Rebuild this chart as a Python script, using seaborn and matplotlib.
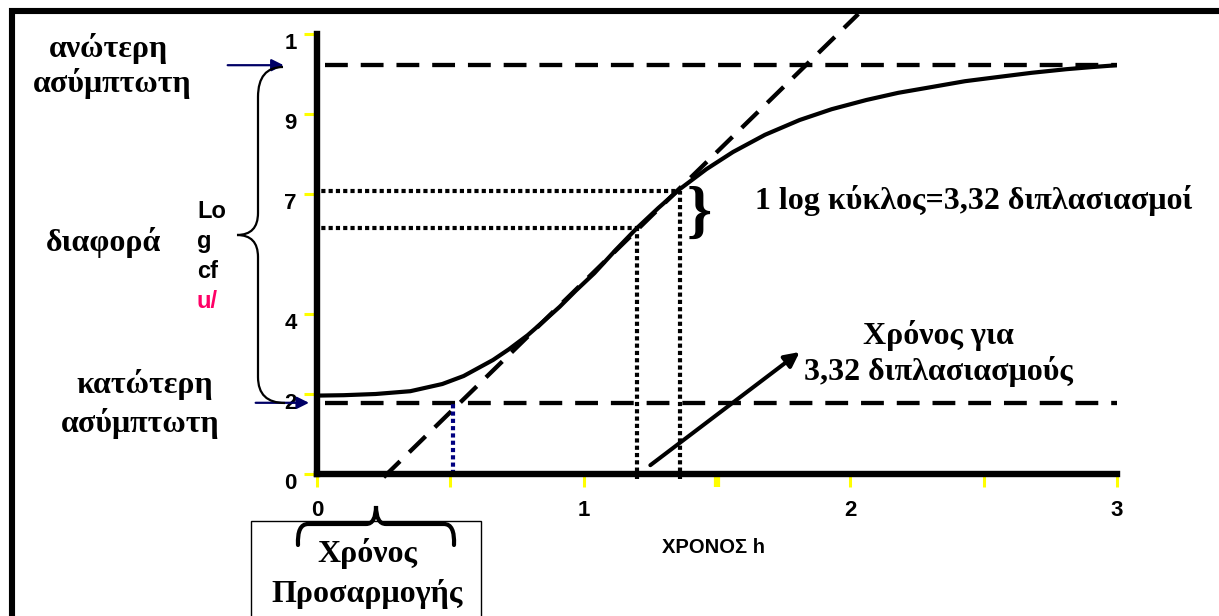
import numpy as np
import pandas as pd
import seaborn as sns
import matplotlib.pyplot as plt
from matplotlib.path import Path
from matplotlib.patches import PathPatch, Rectangle
from matplotlib.lines import Line2D
from matplotlib.transforms import ScaledTranslation

# growth curve (time h, log cfu)
curve_x = [0.0, 0.10, 0.22, 0.35, 0.47, 0.55, 0.66, 0.72, 0.79, 0.85, 0.91, 0.97, 1.04, 1.12,
           1.20, 1.28, 1.36, 1.46, 1.56, 1.68, 1.81, 1.93, 2.06, 2.18, 2.31, 2.43, 2.56,
           2.68, 2.81, 2.90, 3.0]
curve_y = [1.96, 1.97, 2.0, 2.07, 2.25, 2.45, 2.85, 3.12, 3.47, 3.82, 4.18, 4.58, 5.02, 5.6,
           6.15, 6.65, 7.12, 7.62, 8.05, 8.48, 8.85, 9.12, 9.35, 9.53, 9.68, 9.82, 9.93,
           10.03, 10.12, 10.17, 10.22]

upper_asym = 10.22
lower_asym = 1.78
asym_x = [0.03, 3.0]

tangent_x = [0.25, 2.03]
tangent_y = [-0.08, 11.5]

# one log cycle marks
cycle_x = [1.20, 1.36]
cycle_y = [6.15, 7.08]
lag_end_x = 0.51

arrow_start = (1.25, 0.22)
arrow_end = (1.81, 3.05)

yticks = [0, 2, 4, 7, 9, 11]
ytick_labels = ["0", "2", "4", "7", "9", "1"]
xticks = [0, 0.5, 1, 1.5, 2, 2.5, 3]
xtick_labels = ["0", "", "1", "", "2", "", "3"]

W, H = 1219, 616
sns.set_theme(style="white")
plt.rcParams['font.family'] = ['Liberation Serif', 'DejaVu Serif']
plt.rcParams['text.color'] = 'black'
plt.rcParams['xtick.labelcolor'] = 'black'
plt.rcParams['ytick.labelcolor'] = 'black'

fig = plt.figure(figsize=(W / 100, H / 100), dpi=100)
ax = fig.add_axes([317 / W, (H - 474) / H, 800 / W, 470 / H])
ax.set_xlim(0, 3)
ax.set_ylim(0, 11.75)
ax.set_facecolor("none")


def px(x, y):
    return x / W, 1 - y / H


dash = (0, (5.3, 3.0))
dot = (0, (1.0, 0.75))

# asymptotes
for lvl in [upper_asym, lower_asym]:
    sns.lineplot(x=asym_x, y=[lvl, lvl], ax=ax, color="black", lw=3.1, linestyle=dash,
                 dash_capstyle="butt", clip_on=False)

# tangent
sns.lineplot(x=tangent_x, y=tangent_y, ax=ax, color="black", lw=3.1, linestyle=dash,
             dash_capstyle="butt", clip_on=False)

# dotted guides for one log cycle
for cx, cy in zip(cycle_x, cycle_y):
    sns.lineplot(x=[-0.01, cx], y=[cy, cy], ax=ax, color="black", lw=3.0, linestyle=dot,
                 dash_capstyle="butt", clip_on=False, estimator=None, sort=False)
    sns.lineplot(x=[cx, cx], y=[-0.12, cy], ax=ax, color="black", lw=3.0, linestyle=dot,
                 dash_capstyle="butt", clip_on=False, estimator=None, sort=False)

sns.lineplot(x=[lag_end_x, lag_end_x], y=[0, lower_asym], ax=ax, color="#000080", lw=3.0,
             linestyle=dot, dash_capstyle="butt", clip_on=False, estimator=None, sort=False)

# growth curve
df = pd.DataFrame({"t": curve_x, "logcfu": curve_y})
sns.lineplot(data=df, x="t", y="logcfu", ax=ax, color="black", lw=3.0, zorder=5,
             solid_joinstyle="round")
ax.set_xlabel("")
ax.set_ylabel("")

ax.annotate("", xy=arrow_end, xytext=arrow_start,
            arrowprops=dict(arrowstyle="-|>", color="black", lw=2.9, mutation_scale=22,
                            shrinkA=0, shrinkB=0))

# axes styling
for s in ["top", "right"]:
    ax.spines[s].set_visible(False)
for s in ["left", "bottom"]:
    ax.spines[s].set_color("black")
    ax.spines[s].set_linewidth(4.6)
ax.spines["left"].set_bounds(0, 11)
ax.set_yticks(yticks)
ax.set_yticklabels(ytick_labels)
ax.set_xticks(xticks)
ax.set_xticklabels(xtick_labels)
ax.tick_params(axis="both", which="major", direction="out", length=9.5, width=2.2,
               color="#FFFF00", labelsize=16, left=True, bottom=True, labelcolor="black")
ax.tick_params(axis="y", pad=5)
ax.tick_params(axis="x", pad=9)
for lab in ax.get_yticklabels() + ax.get_xticklabels():
    lab.set_fontfamily("Liberation Sans")
    lab.set_fontweight("bold")
off = ScaledTranslation(0, -7 / 100, fig.dpi_scale_trans)
for lab in ax.get_yticklabels():
    lab.set_transform(lab.get_transform() + off)
for t, loc in zip(ax.xaxis.get_major_ticks(), xticks):
    if loc == 1.5:
        t.tick1line.set_markeredgewidth(4.5)

# left arrows to the asymptotes
ax.annotate("", xy=(-0.125, upper_asym), xytext=(-0.335, upper_asym),
            arrowprops=dict(arrowstyle="-|>", color="#000066", lw=1.6, mutation_scale=18,
                            shrinkA=0, shrinkB=0), annotation_clip=False)
ax.annotate("", xy=(-0.03, lower_asym), xytext=(-0.23, lower_asym),
            arrowprops=dict(arrowstyle="-|>", color="#000066", lw=1.6, mutation_scale=18,
                            shrinkA=0, shrinkB=0), annotation_clip=False)

# big left brace
bp = [(283, 67), (258, 67), (258, 97), (258, 213), (258, 235), (237, 235),
      (258, 235), (258, 257), (258, 377), (258, 403), (285, 403)]
codes = [Path.MOVETO, Path.CURVE3, Path.CURVE3, Path.LINETO, Path.CURVE3, Path.CURVE3,
         Path.CURVE3, Path.CURVE3, Path.LINETO, Path.CURVE3, Path.CURVE3]
fig.add_artist(PathPatch(Path([px(*p) for p in bp], codes), fill=False, lw=1.6,
                         edgecolor="black", transform=fig.transFigure))

# bottom box with brace
fig.add_artist(Rectangle(px(251, 640), 230 / W, 119 / H, fill=False, lw=1.0,
                         edgecolor="black", transform=fig.transFigure))
hb = [(298, 545), (297, 524), (308, 524), (366, 524), (376, 524), (376, 506),
      (376, 524), (386, 524), (444, 524), (455, 524), (454, 545)]
fig.add_artist(PathPatch(Path([px(*p) for p in hb], codes), fill=False, lw=3.0,
                         edgecolor="black", transform=fig.transFigure, capstyle="round"))

# outer frame
fig.add_artist(Line2D([9 / W, 1], [1 - 11 / H, 1 - 11 / H], lw=4.4, color="black",
                      transform=fig.transFigure, solid_capstyle="butt"))
fig.add_artist(Line2D([12 / W, 12 / W], [0, 1 - 8 / H], lw=4.4, color="black",
                      transform=fig.transFigure, solid_capstyle="butt"))

serif = dict(fontsize=23, fontweight="bold", family=["Liberation Serif", "DejaVu Serif"],
             va="baseline", ha="center", color="black")
fig.text(*px(108, 57), "ανώτερη", **serif)
fig.text(*px(112, 92), "ασύμπτωτη", **serif)
fig.text(*px(104, 251), "διαφορά", **serif)
fig.text(*px(145, 393), "κατώτερη", **serif)
fig.text(*px(140, 432), "ασύμπτωτη", **serif)
fig.text(*px(755, 209), "1 log κύκλος=3,32 διπλασιασμοί", **{**serif, "ha": "left"})
fig.text(*px(938, 344), "Χρόνος για", **serif)
fig.text(*px(938, 380), "3,32 διπλασιασμούς", **serif)
fig.text(*px(367, 562), "Χρόνος", **serif)
fig.text(*px(367, 602), "Προσαρμογής", **serif)
fig.text(*px(699, 215), "}", fontsize=46, fontweight="bold", family="Liberation Serif",
         ha="center", va="center", color="black")

sans = dict(fontsize=17, fontweight="bold", family=["Liberation Sans", "DejaVu Sans"],
            va="baseline", ha="left")
for txt, yb, col in [("Lo", 218, "black"), ("g", 248, "black"), ("cf", 278, "black"),
                     ("u/", 308, "#FF0066")]:
    fig.text(*px(197, yb), txt, color=col, **sans)
fig.text(*px(713, 553), "ΧΡΟΝΟΣ h", fontsize=14.5, fontweight="bold", color="black",
         family=["Liberation Sans", "DejaVu Sans"], ha="center", va="baseline")

fig.savefig("out.png", dpi=100, facecolor="white")
